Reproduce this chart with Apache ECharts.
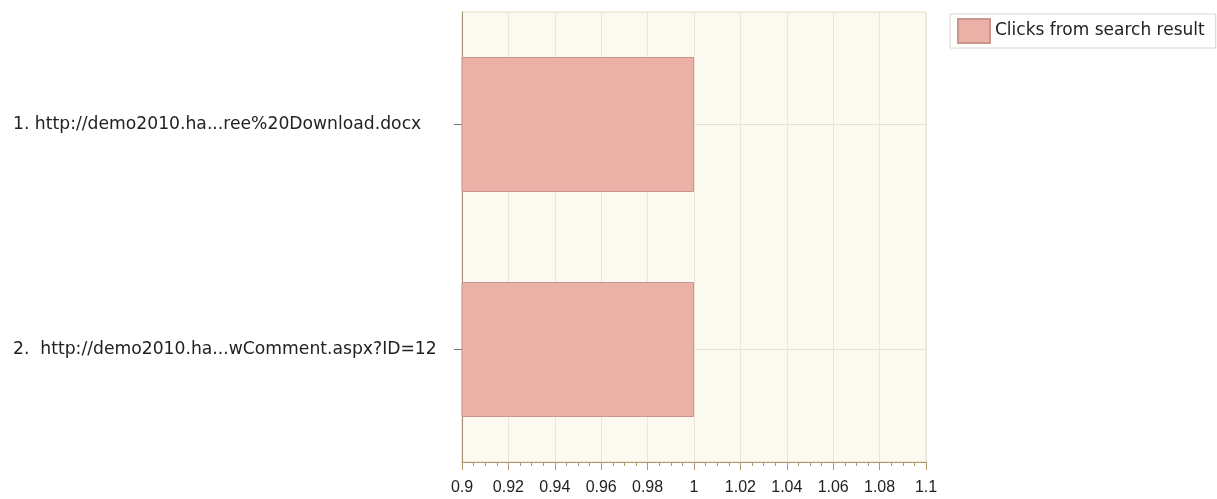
<!DOCTYPE html>
<html>
<head>
<meta charset="utf-8">
<script src="https://cdn.jsdelivr.net/npm/echarts@6/dist/echarts.min.js"></script>
<style>html,body{margin:0;padding:0;background:#fff;}#c{width:1217px;height:499px;}</style>
</head>
<body>
<div id="c"></div>
<script>
const categories = [
  '1. http://demo2010.ha...ree%20Download.docx',
  '2.  http://demo2010.ha...wComment.aspx?ID=12'
];
const seriesName = 'Clicks from search result';
const clicks = [1, 1];
const xMin = 0.9, xMax = 1.1, xStep = 0.02;

const chart = echarts.init(document.getElementById('c'), null, {renderer: 'canvas'});
chart.setOption({
  animation: false,
  backgroundColor: '#ffffff',
  legend: {
    data: [seriesName],
    left: 950, top: 14,
    padding: [4, 11, 4, 7],
    itemWidth: 32, itemHeight: 24, itemGap: 8,
    backgroundColor: '#ffffff',
    borderColor: '#d6d6d0', borderWidth: 1,
    textStyle: {fontFamily: 'DejaVu Sans', fontSize: 17, color: '#222'},
    icon: 'rect'
  },
  grid: {
    left: 462, right: 291, top: 12, bottom: 37,
    show: true,
    backgroundColor: '#fcf9f0',
    borderColor: '#e2dcc4', borderWidth: 1
  },
  xAxis: {
    type: 'value', min: xMin, max: xMax, interval: xStep,
    axisLine: {show: true, lineStyle: {color: '#a8986a', width: 1}},
    axisTick: {show: true, length: 8, lineStyle: {color: '#a8986a'}},
    minorTick: {show: true, splitNumber: 4, length: 4, lineStyle: {color: '#a8986a'}},
    splitLine: {show: true, lineStyle: {color: '#ebe6d5', width: 1}},
    axisLabel: {margin: 18, fontFamily: 'Liberation Sans', fontSize: 16, color: '#222',
      formatter: v => String(parseFloat(v.toFixed(2)))}
  },
  yAxis: {
    type: 'category', data: categories, inverse: true,
    axisLine: {show: true, lineStyle: {color: '#9c9070', width: 1}},
    axisTick: {show: true, alignWithLabel: true, length: 8, lineStyle: {color: '#777'}},
    splitLine: {show: true, alignWithLabel: true, lineStyle: {color: '#e6e0cc'}},
    axisLabel: {margin: 449, align: 'left', fontFamily: 'DejaVu Sans', fontSize: 17.2, color: '#222'}
  },
  series: [{
    name: seriesName, type: 'bar', data: clicks,
    barCategoryGap: '40%',
    itemStyle: {color: '#ebb1a6', borderColor: '#c8968c', borderWidth: 1}
  }]
});
</script>
</body>
</html>
